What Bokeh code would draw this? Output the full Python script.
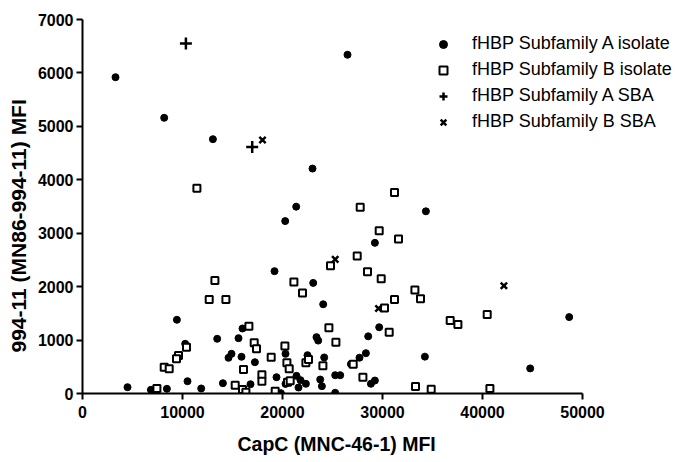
from bokeh.plotting import figure
from bokeh.models import (FixedTicker, BasicTickFormatter, Legend, LegendItem,
                          Range1d, Title)
from bokeh.embed import file_html
from bokeh.resources import INLINE

# fHBP Subfamily A isolate
a_iso_x = [3300, 8170, 13040, 26500, 23000, 34340, 29240, 23070, 24070, 48670,
           29670, 28570, 34240, 44770, 28340, 27700, 24170, 23400, 23570, 22500,
           22600, 26840, 25270, 25770, 23770, 23940, 25270, 28840, 29240, 22340,
           21400, 21800, 21600, 21370, 20270, 19200, 9440, 13470, 15600, 16000,
           10270, 14600, 14900, 15900, 17240, 20300, 4500, 6840, 8440, 10500,
           11870, 14040, 16800, 19400, 19840, 20300]
a_iso_y = [5920, 5160, 4760, 6340, 4210, 3410, 2820, 2070, 1670, 1430,
           1240, 1070, 690, 470, 755, 670, 675, 1055, 990, 717,
           670, 550, 343, 343, 262, 137, 13, 182, 243, 182,
           330, 250, 112, 3497, 3227, 2290, 1380, 1024, 1036, 1217,
           930, 668, 743, 687, 586, 743, 118, 69, 88, 230,
           94, 193, 174, 305, 6, 180]

# fHBP Subfamily B isolate
b_iso_x = [11440, 31200, 27770, 29670, 31600, 27470, 28500, 29870, 24800, 22000,
           33240, 33800, 31200, 30200, 40470, 36770, 37540, 24640, 30670, 25340,
           22340, 22600, 24040, 27070, 28040, 33300, 34870, 40740, 13240, 12670,
           14340, 21140, 16640, 17170, 17400, 20240, 18870, 20440, 20670, 16100,
           17940, 17940, 15270, 16000, 16340, 19270, 20500, 20770, 9600, 9400,
           10400, 8170, 8670, 7440]
b_iso_y = [3840, 3760, 3484, 3047, 2890, 2572, 2279, 2148, 2391, 1879,
           1935, 1773, 1760, 1598, 1480, 1367, 1292, 1230, 1148, 961,
           575, 637, 519, 549, 305, 131, 81, 94, 2116, 1760,
           1760, 2085, 1261, 950, 837, 887, 680, 575, 462, 450,
           350, 230, 156, 75, 24, 43, 212, 237, 712, 650,
           867, 493, 462, 94]

# fHBP Subfamily A SBA
a_sba_x = [10340, 16970]
a_sba_y = [6550, 4613]

# fHBP Subfamily B SBA
b_sba_x = [18000, 25270, 29600, 42140]
b_sba_y = [4744, 2510, 1592, 2017]

x_ticks = [0, 10000, 20000, 30000, 40000, 50000]
y_ticks = [0, 1000, 2000, 3000, 4000, 5000, 6000, 7000]

labels = ["fHBP Subfamily A isolate", "fHBP Subfamily B isolate",
          "fHBP Subfamily A SBA", "fHBP Subfamily B SBA"]
x_title = "CapC (MNC-46-1) MFI"
y_title = "994-11 (MN86-994-11) MFI"

p = figure(frame_width=595, frame_height=374, output_backend="svg",
           toolbar_location=None,
           x_range=Range1d(0, 59500), y_range=Range1d(0, 7000),
           min_border_left=75, min_border_right=5, min_border_top=19,
           min_border_bottom=52)
p.outline_line_color = None
p.grid.visible = False
p.background_fill_color = "white"
p.border_fill_color = "white"

r1 = p.scatter(a_iso_x, a_iso_y, marker="circle", size=7, color="black")
r2 = p.scatter(b_iso_x, b_iso_y, marker="square", size=7, fill_color="white",
               line_color="black", line_width=2)
r3 = p.scatter(a_sba_x, a_sba_y, marker="cross", size=12, line_color="black",
               line_width=2.5)
r4 = p.scatter(b_sba_x, b_sba_y, marker="x", size=9, line_color="black",
               line_width=2.5)

for ax, ticks in ((p.xaxis[0], x_ticks), (p.yaxis[0], y_ticks)):
    ax.ticker = FixedTicker(ticks=ticks)
    ax.formatter = BasicTickFormatter(use_scientific=False)
    ax.minor_tick_line_color = None
    ax.axis_line_width = 2
    ax.axis_line_color = "black"
    ax.major_tick_line_width = 2
    ax.major_tick_line_color = "black"
    ax.major_tick_in = 0
    ax.major_tick_out = 6
    ax.major_label_text_font = "Liberation Sans"
    ax.major_label_text_font_style = "bold"
    ax.major_label_text_font_size = "16px"
    ax.major_label_text_color = "black"

p.xaxis[0].bounds = (0, 50000)
p.xaxis[0].major_label_standoff = 6
p.yaxis[0].major_label_standoff = 3

xt = Title(text=x_title, align="left", offset=155, standoff=20,
           text_font="Liberation Sans", text_font_style="bold",
           text_font_size="19.5px", text_color="black")
p.add_layout(xt, "below")
yt = Title(text=y_title, align="left", offset=41, standoff=9,
           text_font="Liberation Sans", text_font_style="bold",
           text_font_size="21px", text_color="black")
p.add_layout(yt, "left")

legend = Legend(items=[LegendItem(label=l, renderers=[r]) for l, r in
                       zip(labels, [r1, r2, r3, r4])],
                location=(351, 261), border_line_color=None,
                background_fill_alpha=0, padding=0, margin=0, spacing=5,
                glyph_width=20, glyph_height=20, label_standoff=19,
                label_text_font="Liberation Sans", label_text_font_size="18px",
                label_text_color="black", label_height=20)
p.add_layout(legend, "center")

open("out.html", "w").write(file_html(p, INLINE))
